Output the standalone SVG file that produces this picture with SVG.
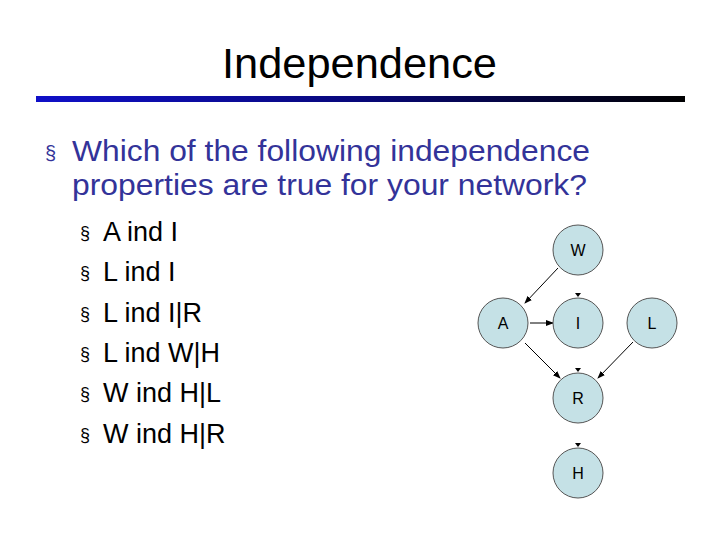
<svg xmlns="http://www.w3.org/2000/svg" width="720" height="540" viewBox="0 0 720 540">
<defs>
<linearGradient id="bar" x1="0" x2="1" y1="0" y2="0"><stop offset="0" stop-color="#1010c8"/><stop offset="0.5" stop-color="#08087a"/><stop offset="1" stop-color="#000"/></linearGradient>
<marker id="ah" markerWidth="8" markerHeight="8" refX="7" refY="4" orient="auto" markerUnits="userSpaceOnUse"><path d="M0,1 L8,4 L0,7 z" fill="#000"/></marker>
</defs>
<style>
text{font-family:"Liberation Sans",Arial,sans-serif}
.n circle{fill:#c5e1e6;stroke:#555;stroke-width:1}
.n text{font-size:16px;text-anchor:middle;fill:#000}
.sub{font-size:27px;fill:#000}
.b{font-size:18px}
.e line{stroke:#000;stroke-width:1;marker-end:url(#ah)}
</style>
<rect width="720" height="540" fill="#fff"/>
<text x="222" y="78" font-size="42" textLength="275" lengthAdjust="spacingAndGlyphs">Independence</text>
<rect x="36" y="96" width="649" height="6" fill="url(#bar)"/>
<g fill="#333399">
<text x="45" y="160" font-size="20">§</text>
<text x="72" y="161" font-size="30" textLength="518" lengthAdjust="spacingAndGlyphs">Which of the following independence</text>
<text x="72" y="195" font-size="30" textLength="515" lengthAdjust="spacingAndGlyphs">properties are true for your network?</text>
</g>
<g class="sub">
<text class="b" x="80" y="239">§</text><text x="103" y="241">A ind I</text>
<text class="b" x="80" y="279">§</text><text x="103" y="281">L ind I</text>
<text class="b" x="80" y="320">§</text><text x="103" y="322">L ind I|R</text>
<text class="b" x="80" y="360">§</text><text x="103" y="362">L ind W|H</text>
<text class="b" x="80" y="400">§</text><text x="103" y="402">W ind H|L</text>
<text class="b" x="80" y="441">§</text><text x="103" y="443">W ind H|R</text>
</g>
<g class="e">
<line x1="558" y1="268" x2="525" y2="303"/>
<line x1="530" y1="323" x2="553" y2="323"/>
<line x1="525" y1="343" x2="560" y2="378"/>
<line x1="633" y1="342" x2="598" y2="378"/>
<path d="M575,293 L581,293 L578,297 z"/>
<path d="M575,368 L581,368 L578,372 z"/>
<path d="M575,443 L581,443 L578,447 z"/>
</g>
<g id="W" class="n"><circle cx="578" cy="250" r="25"/><text x="578" y="256">W</text></g>
<g id="A" class="n"><circle cx="503" cy="323" r="25"/><text x="503" y="329">A</text></g>
<g id="I" class="n"><circle cx="578" cy="323" r="25"/><text x="578" y="329">I</text></g>
<g id="L" class="n"><circle cx="652" cy="323" r="25"/><text x="652" y="329">L</text></g>
<g id="R" class="n"><circle cx="578" cy="398" r="25"/><text x="578" y="404">R</text></g>
<g id="H" class="n"><circle cx="578" cy="473" r="25"/><text x="578" y="479">H</text></g>
</svg>
